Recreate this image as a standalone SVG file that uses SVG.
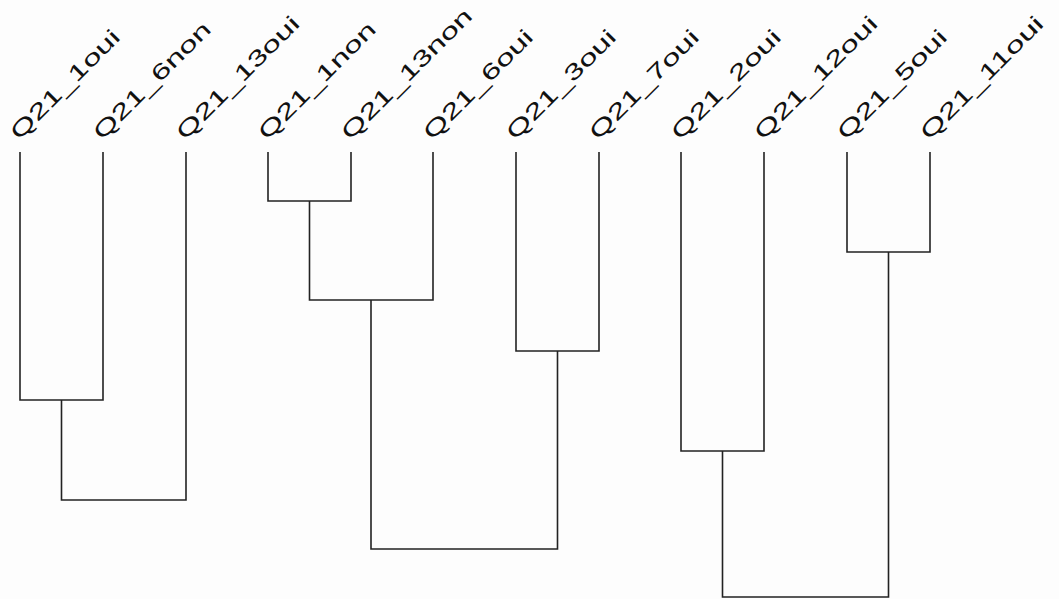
<svg xmlns="http://www.w3.org/2000/svg" width="1059" height="599" viewBox="0 0 1059 599">
<style>
.lbl{font-family:"Liberation Sans",Arial,sans-serif;font-size:22px;fill:#111}
.br{fill:none;stroke:#222;stroke-width:1.6}
</style>
<rect width="1059" height="599" fill="#fdfdfd"/>
<g id="connectors">
<path class="br" d="M20 152V400H103V152"/>
<path class="br" d="M61.5 400V500H186V152"/>
<path class="br" d="M268 152V201H351V152"/>
<path class="br" d="M309.5 201V300H433V152"/>
<path class="br" d="M516 152V351H599V152"/>
<path class="br" d="M371 300V549H557.5V351"/>
<path class="br" d="M681 152V451H764V152"/>
<path class="br" d="M847 152V252H930V152"/>
<path class="br" d="M722.5 451V597H888.5V252"/>
</g>
<g id="leaf-Q21_1oui"><text class="lbl" transform="translate(19,141) rotate(-45)" textLength="145" lengthAdjust="spacingAndGlyphs">Q21_1oui</text></g>
<g id="leaf-Q21_6non"><text class="lbl" transform="translate(102,141) rotate(-45)" textLength="156" lengthAdjust="spacingAndGlyphs">Q21_6non</text></g>
<g id="leaf-Q21_13oui"><text class="lbl" transform="translate(185,141) rotate(-45)" textLength="164" lengthAdjust="spacingAndGlyphs">Q21_13oui</text></g>
<g id="leaf-Q21_1non"><text class="lbl" transform="translate(267,141) rotate(-45)" textLength="156" lengthAdjust="spacingAndGlyphs">Q21_1non</text></g>
<g id="leaf-Q21_13non"><text class="lbl" transform="translate(350,141) rotate(-45)" textLength="175" lengthAdjust="spacingAndGlyphs">Q21_13non</text></g>
<g id="leaf-Q21_6oui"><text class="lbl" transform="translate(432,141) rotate(-45)" textLength="145" lengthAdjust="spacingAndGlyphs">Q21_6oui</text></g>
<g id="leaf-Q21_3oui"><text class="lbl" transform="translate(515,141) rotate(-45)" textLength="145" lengthAdjust="spacingAndGlyphs">Q21_3oui</text></g>
<g id="leaf-Q21_7oui"><text class="lbl" transform="translate(598,141) rotate(-45)" textLength="145" lengthAdjust="spacingAndGlyphs">Q21_7oui</text></g>
<g id="leaf-Q21_2oui"><text class="lbl" transform="translate(680,141) rotate(-45)" textLength="145" lengthAdjust="spacingAndGlyphs">Q21_2oui</text></g>
<g id="leaf-Q21_12oui"><text class="lbl" transform="translate(763,141) rotate(-45)" textLength="164" lengthAdjust="spacingAndGlyphs">Q21_12oui</text></g>
<g id="leaf-Q21_5oui"><text class="lbl" transform="translate(846,141) rotate(-45)" textLength="145" lengthAdjust="spacingAndGlyphs">Q21_5oui</text></g>
<g id="leaf-Q21_11oui"><text class="lbl" transform="translate(929,141) rotate(-45)" textLength="164" lengthAdjust="spacingAndGlyphs">Q21_11oui</text></g>
</svg>
